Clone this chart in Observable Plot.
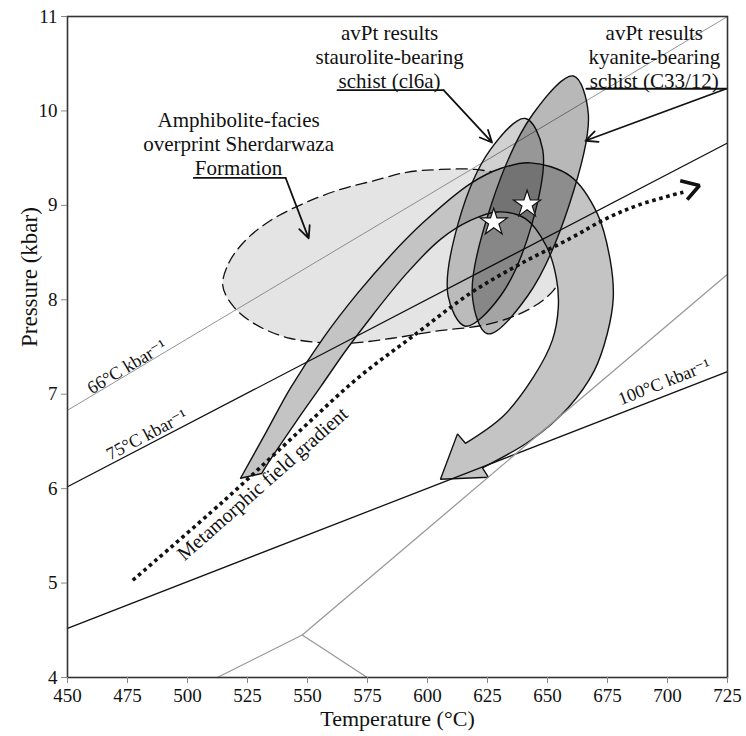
<!DOCTYPE html>
<html>
<head>
<meta charset="utf-8">
<script src="https://cdn.jsdelivr.net/npm/d3@7"></script>
<script src="https://cdn.jsdelivr.net/npm/@observablehq/plot@0.6"></script>
<style>
  html, body { margin: 0; padding: 0; background: white; }
  #chart { width: 746px; height: 736px; }
  #chart svg, #chart svg text, #chart svg tspan { font-family: "Liberation Serif", "DejaVu Serif", "Noto Serif", Times, serif !important; }
</style>
</head>
<body>
<div id="chart"></div>
<script>
// ---- axis ticks ----
const xTicks = [450, 475, 500, 525, 550, 575, 600, 625, 650, 675, 700, 725];
const yTicks = [4, 5, 6, 7, 8, 9, 10, 11];

// ---- geothermal gradient lines [T, P] ----
const grad66 = [[450, 6.83], [725, 11.0]];
const grad75 = [[450, 6.02], [725, 9.66]];
const grad100 = [[450, 4.52], [725, 7.24]];

// ---- Al2SiO5 reaction lines ----
const reactionA = [[512.4, 4.0], [547.8, 4.45], [725, 8.27]];
const reactionB = [[547.8, 4.45], [574.9, 4.0]];

// ---- amphibolite-facies overprint (dashed field) ----
const overprintT = [514.7, 517.2, 524.2, 534.6, 548.4, 563.8, 577.5, 591.3, 605.4, 620.0, 634.6, 647.0, 656.2, 660.8, 658.7, 652.5, 641.6, 625.0, 604.2, 584.6, 565.9, 543.0, 527.6, 518.8];
const overprintP = [8.15, 8.39, 8.63, 8.84, 9.02, 9.17, 9.26, 9.35, 9.38, 9.38, 9.31, 9.19, 8.98, 8.70, 8.41, 8.10, 7.89, 7.74, 7.67, 7.59, 7.54, 7.59, 7.75, 7.94];

// ---- avPT ellipse, staurolite-bearing schist (cl6a) ----
const cl6aT = [640.8, 648.0, 643.7, 630.4, 615.8, 608.6, 612.9, 626.2];
const cl6aP = [9.92, 9.59, 8.82, 8.04, 7.72, 8.04, 8.82, 9.59];

// ---- avPT ellipse, kyanite-bearing schist (C33/12) ----
const c33T = [660.8, 667.0, 659.1, 641.7, 625.0, 618.7, 626.6, 644.0];
const c33P = [10.37, 9.97, 9.01, 8.04, 7.64, 8.04, 9.01, 9.97];

// ---- P-T path band (outline; corner vertices repeated for sharp corners) ----
const pathT = [522.1, 522.1, 532.6, 543.0, 556.7, 570.9, 584.6, 598.3, 617.9, 630.4, 642.9, 659.5, 670.8, 676.2, 677.4, 674.9, 669.5, 658.7, 642.9, 622.9, 622.9,
  625.4, 625.4, 605.4, 605.4, 612.5, 612.5, 615.8, 615.8,
  631.6, 644.1, 652.0, 654.5, 653.7, 649.5, 640.8, 629.1, 617.9, 605.4, 591.7, 577.5, 565.9, 555.5, 545.0, 533.8, 530.9, 530.9, 522.1, 522.1];
const pathP = [6.11, 6.11, 6.59, 7.07, 7.60, 8.07, 8.47, 8.82, 9.23, 9.39, 9.45, 9.31, 8.91, 8.41, 8.02, 7.64, 7.25, 6.86, 6.51, 6.22, 6.22,
  6.12, 6.12, 6.10, 6.10, 6.58, 6.58, 6.48, 6.48,
  6.77, 7.18, 7.57, 7.92, 8.23, 8.57, 8.86, 8.93, 8.84, 8.64, 8.29, 7.85, 7.46, 7.08, 6.70, 6.28, 6.16, 6.16, 6.11, 6.11];

// ---- metamorphic field gradient (dotted) ----
const mfgT = [477.2, 515.1, 547.1, 570.9, 594.2, 617.9, 638.7, 659.5, 674.5, 688.7, 706.6];
const mfgP = [5.03, 5.87, 6.62, 7.17, 7.62, 8.07, 8.38, 8.65, 8.86, 9.01, 9.14];
const mfgHeadT = [705.3, 713.3, 708.2];
const mfgHeadP = [9.26, 9.21, 9.06];

// ---- avPT results (stars) ----
const starT = [627.6, 641.5];
const starP = [8.82, 9.01];

// ---- annotations ----
const labelTexts = [
  "Amphibolite-facies\noverprint Sherdarwaza\nFormation",
  "avPt results\nstaurolite-bearing\nschist (cl6a)",
  "avPt results\nkyanite-bearing\nschist (C33/12)"
];
const labelT = [521.3, 584.2, 694.5];
const labelP = [9.66, 10.58, 10.58];

// underline + leader arrows
const underlines = [
  [[502.6, 9.29], [540.9, 9.29]],
  [[562.5, 10.22], [606.7, 10.22]],
  [[666.2, 10.235], [724.5, 10.235]]
];
const leaderFrom = [[540.9, 9.29], [606.7, 10.22], [724.5, 10.235]];
const leaderTo = [[550.5, 8.65], [626.9, 9.666], [665.8, 9.684]];

const gradLabelTexts = ["66°C kbar⁻¹", "75°C kbar⁻¹", "100°C kbar⁻¹", "Metamorphic field gradient"];
const gradLabelT = [474.7, 483.0, 698.7, 531.3];
const gradLabelP = [7.29, 6.57, 7.13, 6.05];
const gradLabelAngle = [-30.8, -27.7, -21.5, -41.5];
const gradLabelSize = [18, 18, 18, 20];

// ---- build tables ----
const toPts = (T, P) => T.map((t, i) => ({T: t, P: P[i]}));
const lineTbl = (arr) => arr.map(([t, p]) => ({T: t, P: p}));

const overprint = toPts(overprintT, overprintP);
const cl6a = toPts(cl6aT, cl6aP);
const c33 = toPts(c33T, c33P);
const ptPath = toPts(pathT, pathP);
const mfg = toPts(mfgT, mfgP);
const mfgHead = toPts(mfgHeadT, mfgHeadP);
const stars = toPts(starT, starP);
const labels = labelTexts.map((t, i) => ({text: t, T: labelT[i], P: labelP[i]}));
const leaders = leaderFrom.map((f, i) => ({x1: f[0], y1: f[1], x2: leaderTo[i][0], y2: leaderTo[i][1]}));
const ulines = underlines.flatMap((seg, i) => seg.map(([t, p]) => ({T: t, P: p, id: i})));
const gradLabels = gradLabelTexts.map((t, i) => ({text: t, T: gradLabelT[i], P: gradLabelP[i]}));

const serif = "Liberation Serif, DejaVu Serif, serif";

const gradLabelMarks = gradLabels.map((d, i) =>
  Plot.text([d], {x: "T", y: "P", text: "text", rotate: gradLabelAngle[i], fontSize: gradLabelSize[i], fontFamily: serif, fill: "#111"})
);

const chart = Plot.plot({
  width: 746,
  height: 736,
  marginLeft: 67,
  marginRight: 19,
  marginTop: 16,
  marginBottom: 59,
  style: {fontFamily: serif, background: "white", color: "#111"},
  x: {domain: [450, 725]},
  y: {domain: [4, 11]},
  marks: [
    Plot.line(overprint, {x: "T", y: "P", curve: "catmull-rom-closed", fill: "#e4e4e4", stroke: "#111", strokeWidth: 1.3, strokeDasharray: "11,6"}),
    Plot.line(ptPath, {x: "T", y: "P", curve: "catmull-rom", fill: "#c4c4c4", stroke: "#111", strokeWidth: 1.4, strokeLinejoin: "miter"}),
    Plot.line(lineTbl(grad66), {x: "T", y: "P", stroke: "#777", strokeWidth: 0.8}),
    Plot.line(lineTbl(grad75), {x: "T", y: "P", stroke: "#111", strokeWidth: 1.3}),
    Plot.line(lineTbl(grad100), {x: "T", y: "P", stroke: "#111", strokeWidth: 1.3}),
    Plot.line(lineTbl(reactionA), {x: "T", y: "P", stroke: "#999", strokeWidth: 1.3}),
    Plot.line(lineTbl(reactionB), {x: "T", y: "P", stroke: "#999", strokeWidth: 1.3}),
    Plot.line(cl6a, {x: "T", y: "P", curve: "catmull-rom-closed", fill: "black", fillOpacity: 0.18, stroke: "#111", strokeWidth: 1.4}),
    Plot.line(c33, {x: "T", y: "P", curve: "catmull-rom-closed", fill: "black", fillOpacity: 0.28, stroke: "#111", strokeWidth: 1.4}),
    Plot.line(mfg, {x: "T", y: "P", curve: "catmull-rom", stroke: "#111", strokeWidth: 3.6, strokeDasharray: "3.6,3.6", strokeLinecap: "butt"}),
    Plot.line(mfgHead, {x: "T", y: "P", stroke: "#111", strokeWidth: 3.6, strokeLinejoin: "miter", strokeLinecap: "butt"}),
    Plot.dot(stars, {x: "T", y: "P", symbol: "star", r: 8.5, fill: "white", stroke: "#111", strokeWidth: 1.2}),
    Plot.text(labels, {x: "T", y: "P", text: "text", fontSize: 21, lineHeight: 1.15, fontFamily: serif, fill: "#111"}),
    Plot.line(ulines, {x: "T", y: "P", z: "id", stroke: "#111", strokeWidth: 1.8}),
    Plot.arrow(leaders, {x1: "x1", y1: "y1", x2: "x2", y2: "y2", stroke: "#111", strokeWidth: 1.8, headLength: 11, headAngle: 50}),
    ...gradLabelMarks,
    Plot.frame({stroke: "#333", strokeWidth: 1.6}),
    Plot.axisX({ticks: xTicks, tickFormat: d3.format("d"), tickSize: 6, tickPadding: 5, fontSize: 19, fontFamily: serif, stroke: "#888", fill: "#111", label: null}),
    Plot.axisY({ticks: yTicks, tickFormat: d3.format("d"), tickSize: 6, tickPadding: 4, fontSize: 19, fontFamily: serif, stroke: "#888", fill: "#111", label: null}),
    Plot.text(["Temperature (°C)"], {frameAnchor: "bottom", dy: 48.5, fontSize: 22, fontFamily: serif, fill: "#111"}),
    Plot.text(["Pressure (kbar)"], {frameAnchor: "left", dx: -38, rotate: -90, fontSize: 23, fontFamily: serif, fill: "#111"})
  ]
});

document.getElementById("chart").appendChild(chart);
</script>
</body>
</html>
